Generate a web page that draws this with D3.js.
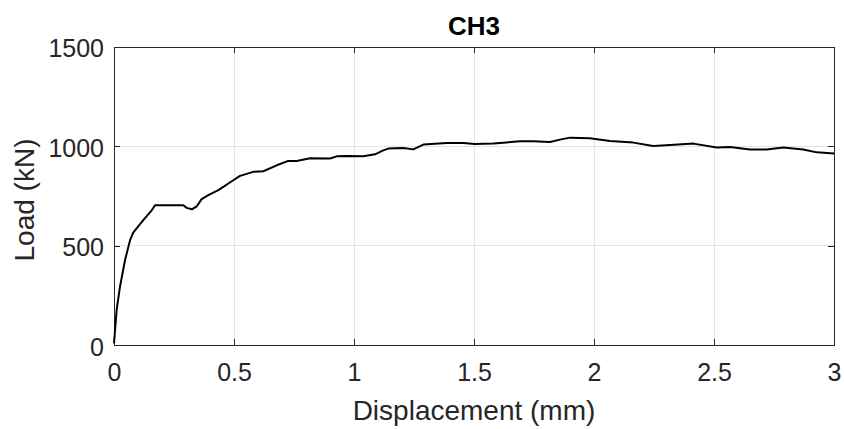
<!DOCTYPE html>
<html><head><meta charset="utf-8">
<script src="https://cdn.jsdelivr.net/npm/d3@7"></script>
<style>body{margin:0;background:#fff}svg{display:block}</style>
</head><body>
<svg id="c" width="844" height="429"></svg>
<script>
const title = "CH3";
const xLabel = "Displacement (mm)";
const yLabel = "Load (kN)";
const xTicks = [0, 0.5, 1, 1.5, 2, 2.5, 3];
const yTicks = [0, 500, 1000, 1500];
const disp = [0, 0.011, 0.025, 0.046, 0.067, 0.080, 0.122, 0.157, 0.171, 0.289, 0.303, 0.324, 0.345, 0.365, 0.393, 0.435, 0.497, 0.525, 0.58, 0.622, 0.678, 0.726, 0.761, 0.817, 0.9, 0.928, 0.969, 1.039, 1.0875, 1.122, 1.143, 1.205, 1.247, 1.289, 1.386, 1.455, 1.504, 1.58, 1.636, 1.692, 1.747, 1.817, 1.858, 1.9, 1.983, 2.067, 2.164, 2.247, 2.317, 2.414, 2.511, 2.567, 2.65, 2.719, 2.789, 2.872, 2.928, 3.0];
const load = [8, 176, 293, 427, 527, 565, 627, 677, 702, 702, 689, 682, 697, 733, 753, 778, 828, 850, 870, 873, 903, 925, 925, 938, 937, 948, 950, 948, 958, 978, 987, 990, 983, 1007, 1015, 1015, 1010, 1012, 1018, 1024, 1024, 1020, 1032, 1042, 1039, 1025, 1017, 1000, 1005, 1012, 992, 995, 983, 983, 993, 982, 968, 962];

const svg = d3.select("#c");
const L = 114, R = 834, T = 46.5, B = 345;
const x = d3.scaleLinear().domain([0, 3]).range([L, R]);
const y = d3.scaleLinear().domain([0, 1500]).range([B, T]);
const font = "'Liberation Sans', Arial, Helvetica, sans-serif";
const axisCol = "#262626";

// grid
const g = svg.append("g");
g.selectAll(".gx").data(xTicks.slice(1, -1)).enter().append("line")
  .attr("x1", d => x(d)).attr("x2", d => x(d)).attr("y1", T).attr("y2", B)
  .attr("stroke", "#e3e3e3").attr("stroke-width", 1).attr("shape-rendering", "crispEdges");
g.selectAll(".gy").data(yTicks.slice(1, -1)).enter().append("line")
  .attr("y1", d => y(d)).attr("y2", d => y(d)).attr("x1", L).attr("x2", R)
  .attr("stroke", "#e3e3e3").attr("stroke-width", 1).attr("shape-rendering", "crispEdges");

// axes
const fmt = d => String(d);
const ax = svg.append("g").attr("transform", `translate(0,${B})`)
  .call(d3.axisBottom(x).tickValues(xTicks).tickFormat(fmt).tickSizeInner(-6).tickSizeOuter(0).tickPadding(18.5));
const axT = svg.append("g").attr("transform", `translate(0,${T})`)
  .call(d3.axisTop(x).tickValues(xTicks).tickFormat("").tickSizeInner(-6).tickSizeOuter(0));
const ay = svg.append("g").attr("transform", `translate(${L},0)`)
  .call(d3.axisLeft(y).tickValues(yTicks).tickFormat(fmt).tickSizeInner(-6).tickSizeOuter(0).tickPadding(10));
const ayR = svg.append("g").attr("transform", `translate(${R},0)`)
  .call(d3.axisRight(y).tickValues(yTicks).tickFormat("").tickSizeInner(-6).tickSizeOuter(0));
[ax, axT, ay, ayR].forEach(a => {
  a.select(".domain").attr("stroke", axisCol).attr("stroke-width", 1).attr("shape-rendering", "crispEdges");
  a.selectAll(".tick line").attr("stroke", axisCol).attr("shape-rendering", "crispEdges");
  a.selectAll(".tick text").attr("fill", axisCol).style("font-family", font).style("font-size", "25px");
});
ay.selectAll(".tick text").attr("dy", "0.41em");

// line
svg.append("path").datum(disp.map((d, i) => [d, load[i]]))
  .attr("d", d3.line().x(d => x(d[0])).y(d => y(d[1])))
  .attr("fill", "none").attr("stroke", "#000").attr("stroke-width", 2).attr("stroke-linejoin", "round");

// labels
svg.append("text").attr("x", (L + R) / 2).attr("y", 35).attr("text-anchor", "middle")
  .style("font-family", font).style("font-size", "26px").style("font-weight", "bold").attr("fill", "#000").text(title);
svg.append("text").attr("x", (L + R) / 2).attr("y", 420).attr("text-anchor", "middle")
  .style("font-family", font).style("font-size", "28px").attr("fill", axisCol).text(xLabel);
svg.append("text").attr("transform", `translate(33.5,200) rotate(-90)`).attr("text-anchor", "middle")
  .style("font-family", font).style("font-size", "28px").attr("fill", axisCol).text(yLabel);
</script>
</body></html>
